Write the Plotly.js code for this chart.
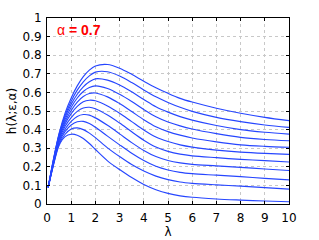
<!DOCTYPE html>
<html>
<head>
<meta charset="utf-8">
<script src="https://cdn.plot.ly/plotly-3.0.1.min.js"></script>
<style>html,body{margin:0;padding:0;background:#fff;}#chart{width:319px;height:240px;}</style>
</head>
<body>
<div id="chart"></div>
<script>
// lambda sample positions
const lambda = [0.05, 0.25, 0.5, 0.75, 1, 1.25, 1.5, 1.75, 2, 2.5, 3, 3.5, 4, 4.5, 5, 5.5, 6, 7, 8, 9, 10];
// curves, lowest to highest
const h0  = [0.09, 0.200, 0.315, 0.362, 0.375, 0.370, 0.352, 0.325, 0.293, 0.232, 0.185, 0.142, 0.105, 0.077, 0.057, 0.044, 0.036, 0.027, 0.021, 0.016, 0.012];
const h1  = [0.09, 0.203, 0.322, 0.375, 0.403, 0.409, 0.400, 0.381, 0.357, 0.302, 0.255, 0.212, 0.177, 0.150, 0.131, 0.118, 0.111, 0.103, 0.096, 0.088, 0.080];
const h2  = [0.09, 0.206, 0.330, 0.390, 0.425, 0.442, 0.444, 0.433, 0.413, 0.365, 0.318, 0.273, 0.234, 0.203, 0.183, 0.170, 0.163, 0.155, 0.147, 0.138, 0.130];
const h3  = [0.09, 0.209, 0.338, 0.403, 0.444, 0.471, 0.481, 0.478, 0.463, 0.423, 0.377, 0.330, 0.288, 0.255, 0.234, 0.221, 0.213, 0.205, 0.197, 0.188, 0.180];
const h4  = [0.09, 0.212, 0.346, 0.418, 0.465, 0.498, 0.516, 0.520, 0.512, 0.478, 0.435, 0.388, 0.343, 0.306, 0.283, 0.268, 0.259, 0.249, 0.240, 0.233, 0.226];
const h5  = [0.09, 0.215, 0.353, 0.431, 0.486, 0.525, 0.550, 0.558, 0.555, 0.527, 0.488, 0.443, 0.398, 0.360, 0.336, 0.318, 0.306, 0.290, 0.279, 0.272, 0.267];
const h6  = [0.09, 0.218, 0.360, 0.443, 0.503, 0.548, 0.578, 0.594, 0.597, 0.576, 0.540, 0.497, 0.453, 0.415, 0.389, 0.370, 0.355, 0.334, 0.318, 0.310, 0.305];
const h7  = [0.09, 0.221, 0.365, 0.455, 0.520, 0.570, 0.605, 0.626, 0.635, 0.621, 0.590, 0.551, 0.508, 0.469, 0.441, 0.420, 0.403, 0.378, 0.358, 0.347, 0.340];
const h8  = [0.09, 0.224, 0.370, 0.467, 0.536, 0.590, 0.630, 0.657, 0.673, 0.666, 0.640, 0.603, 0.562, 0.523, 0.494, 0.470, 0.451, 0.422, 0.400, 0.386, 0.376];
const h9  = [0.09, 0.227, 0.375, 0.478, 0.553, 0.612, 0.657, 0.689, 0.709, 0.711, 0.688, 0.653, 0.613, 0.576, 0.546, 0.520, 0.498, 0.466, 0.443, 0.425, 0.412];
const h10 = [0.09, 0.230, 0.380, 0.490, 0.570, 0.635, 0.685, 0.720, 0.742, 0.750, 0.730, 0.697, 0.660, 0.625, 0.595, 0.568, 0.548, 0.515, 0.488, 0.466, 0.448];
const curves = [h0, h1, h2, h3, h4, h5, h6, h7, h8, h9, h10];
const xTicks = [0,1,2,3,4,5,6,7,8,9,10];
const yTicks = [0,0.1,0.2,0.3,0.4,0.5,0.6,0.7,0.8,0.9,1];
const yTickText = ['0','0.1','0.2','0.3','0.4','0.5','0.6','0.7','0.8','0.9','1'];
const annotSymbol = 'α';
const annotValue = '= 0.7';

const traces = curves.map(c => ({
  x: lambda, y: c, type: 'scatter', mode: 'lines',
  line: {color: '#2646ff', width: 1.15, shape: 'spline', smoothing: 0.9},
  hoverinfo: 'skip', showlegend: false
}));

const font = {family: 'DejaVu Sans, sans-serif', size: 12, color: '#000'};
const layout = {
  width: 319, height: 240,
  margin: {l: 47, r: 30, t: 18, b: 36, pad: 0},
  paper_bgcolor: '#fff', plot_bgcolor: '#fff',
  font: font,
  showlegend: false,
  xaxis: {
    range: [0, 10], tickvals: xTicks, ticktext: xTicks.map(String),
    showline: true, linecolor: '#000', linewidth: 1, mirror: 'ticks',
    ticks: 'inside', ticklen: 3, tickcolor: '#000',
    showgrid: true, gridcolor: '#c8c8c8', griddash: 'dot', gridwidth: 1,
    zeroline: false, tickfont: font, ticklabelstandoff: 3,
    title: {text: 'λ', font: font, standoff: 0}
  },
  yaxis: {
    range: [0, 1], tickvals: yTicks, ticktext: yTickText,
    showline: true, linecolor: '#000', linewidth: 1, mirror: 'ticks',
    ticks: 'inside', ticklen: 3, tickcolor: '#000',
    showgrid: true, gridcolor: '#c8c8c8', griddash: 'dot', gridwidth: 1,
    zeroline: false, tickfont: font, ticklabelstandoff: 2,
    title: {text: 'h(λ;ε,α)', font: font, standoff: 3}
  },
  annotations: [{
    text: annotSymbol + ' <b>' + annotValue + '</b>', xref: 'x', yref: 'y', x: 0.32, y: 0.935,
    xanchor: 'left', yanchor: 'middle', showarrow: false,
    font: {family: 'Liberation Sans, Arial, sans-serif', size: 14, color: '#ff0000'}
  }]
};
Plotly.newPlot('chart', traces, layout, {staticPlot: true, displayModeBar: false});
</script>
</body>
</html>
